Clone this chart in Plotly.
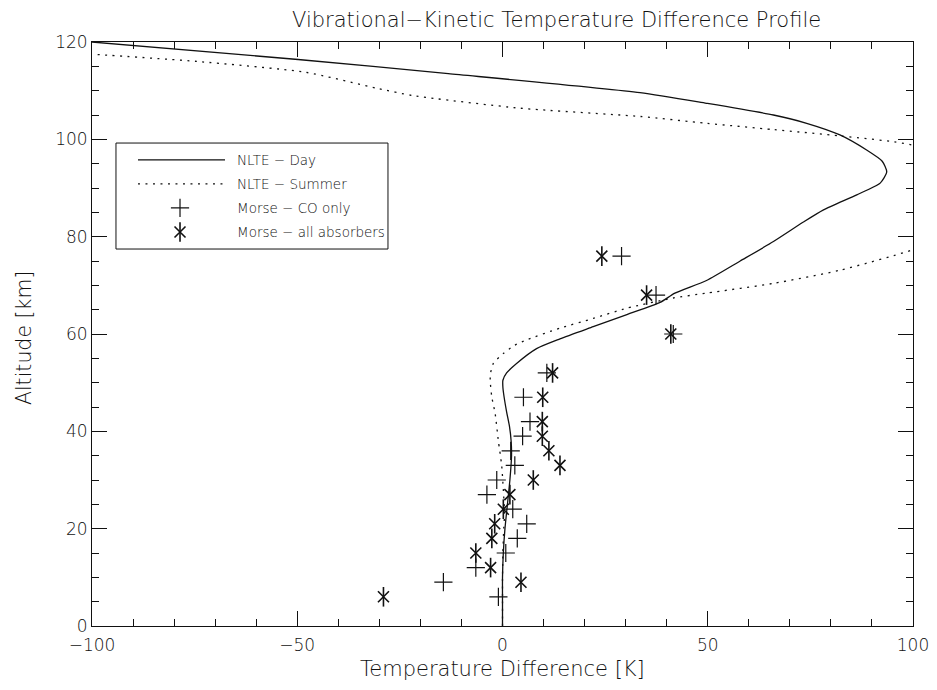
import plotly.graph_objects as go

# ---- data ----
day_alt = [0, 5, 10, 15, 20, 25, 30, 35, 38, 41, 44, 47, 49, 50.5, 52, 54, 57, 59, 61.5, 64,
           66.5, 68.4, 71, 75, 79, 83, 85.5, 88.6, 91, 93.3, 95.5, 97.8, 100.9, 103.3, 105,
           107.4, 109.6, 113.5, 116.4, 120]
day_dt = [0, 0, 0, 0.2, 0.6, 1.2, 1.8, 2.2, 2.1, 1.7, 1.0, 0.4, 0.1, 0.1, 1.0, 3.5, 8.3, 14.0,
          22.1, 30.3, 38.4, 42.0, 49.7, 57.9, 66.0, 73.3, 78.2, 86.3, 92.0, 93.6, 92.5, 88.7,
          82.2, 74.1, 66.0, 49.7, 33.5, -13.2, -49.8, -100]

sum_alt = [0, 5, 10, 15, 20, 23, 28, 33, 38, 43.7, 47, 50.5, 52, 54, 56, 57.7, 58.8, 61.2,
           63.2, 65.3, 67.4, 68.4, 70.4, 73.1, 77.3, 88, 98.8, 100.7, 102, 103.3, 104.7,
           106.4, 109, 110.5, 113.8, 116, 117.5]
sum_dt = [0, 0, 0, 0.1, 0.3, 0.5, 0.2, -0.2, -1.0, -1.8, -2.6, -3.0, -2.9, -2.2, 0.2, 3.0,
          5.9, 14.0, 22.1, 30.3, 41.6, 49.7, 66.0, 82.2, 100, 135, 100, 82.2, 66.0, 49.7,
          33.5, 4.3, -21.9, -30.6, -48.1, -74.3, -100]

co_alt = [76, 68, 60, 52, 47, 42, 39, 36, 33, 30, 27, 24, 21, 18, 15, 12, 9, 6]
co_dt = [29.0, 37.4, 41.6, 10.8, 5.1, 6.7, 4.9, 2.0, 3.0, -1.4, -3.8, 2.5, 5.9, 3.6, 0.8,
         -6.5, -14.4, -1.0]

all_alt = [76, 68, 60, 52, 47, 42, 39, 36, 33, 30, 27, 24, 21, 18, 15, 12, 9, 6]
all_dt = [24.2, 35.1, 41.0, 12.2, 9.8, 9.7, 9.7, 11.3, 14.0, 7.5, 1.8, 0.2, -1.9, -2.6, -6.5,
          -2.9, 4.5, -29.0]

legend_labels = ["NLTE \u2212 Day", "NLTE \u2212 Summer", "Morse \u2212 CO only",
                 "Morse \u2212 all absorbers"]

FONT = "DejaVu Sans"
W = 200
INK = "#111111"
DOT = "2px,5.5px"

fig = go.Figure()
fig.add_trace(go.Scatter(x=day_dt, y=day_alt, mode="lines",
                         line=dict(color=INK, width=1.3, shape="spline", smoothing=0.6),
                         showlegend=False))
fig.add_trace(go.Scatter(x=sum_dt, y=sum_alt, mode="lines",
                         line=dict(color=INK, width=1.3, dash=DOT, shape="spline", smoothing=0.6),
                         showlegend=False))
fig.add_trace(go.Scatter(x=co_dt, y=co_alt, mode="markers",
                         marker=dict(symbol="cross-thin", size=13,
                                     line=dict(color=INK, width=1.2)), showlegend=False))
fig.add_trace(go.Scatter(x=all_dt, y=all_alt, mode="markers",
                         marker=dict(symbol="x-thin", size=11,
                                     line=dict(color=INK, width=1.6)), showlegend=False))
fig.add_trace(go.Scatter(x=all_dt, y=all_alt, mode="markers",
                         marker=dict(symbol="line-ns", size=14,
                                     line=dict(color=INK, width=1.6)), showlegend=False))

# ---- manual IDL-style legend (axis-domain coordinates) ----
box = dict(x0=0.0292, x1=0.3605, y0=0.6455, y1=0.827)
row_y = [0.798, 0.757, 0.7158, 0.6747]
samp_x0, samp_x1, mark_x, text_x = 0.056, 0.162, 0.1072, 0.1736

shapes = [dict(type="rect", xref="x domain", yref="y domain", **box,
               line=dict(color=INK, width=1), fillcolor="white", layer="below")]
shapes.append(dict(type="line", xref="x domain", yref="y domain", x0=samp_x0, x1=samp_x1,
                   y0=row_y[0], y1=row_y[0], line=dict(color=INK, width=1.3)))
shapes.append(dict(type="line", xref="x domain", yref="y domain", x0=samp_x0, x1=samp_x1,
                   y0=row_y[1], y1=row_y[1], line=dict(color=INK, width=1.3, dash=DOT)))

fig.add_trace(go.Scatter(x=[mark_x], y=[row_y[2]], xaxis="x2", yaxis="y2", mode="markers",
                         marker=dict(symbol="cross-thin", size=13,
                                     line=dict(color=INK, width=1.2)), showlegend=False))
fig.add_trace(go.Scatter(x=[mark_x], y=[row_y[3]], xaxis="x2", yaxis="y2", mode="markers",
                         marker=dict(symbol="x-thin", size=11,
                                     line=dict(color=INK, width=1.6)), showlegend=False))
fig.add_trace(go.Scatter(x=[mark_x], y=[row_y[3]], xaxis="x2", yaxis="y2", mode="markers",
                         marker=dict(symbol="line-ns", size=14,
                                     line=dict(color=INK, width=1.6)), showlegend=False))

annotations = []
for lbl, yy in zip(legend_labels, row_y):
    annotations.append(dict(text=lbl, xref="x domain", yref="y domain", x=text_x, y=yy,
                            xanchor="left", yanchor="middle", showarrow=False,
                            font=dict(family=FONT, size=13.5, color=INK, weight=W)))
# axis titles
annotations.append(dict(text="Temperature Difference [K]", xref="paper", yref="paper",
                        x=0.5, y=-0.0736, xanchor="center", yanchor="middle", showarrow=False,
                        font=dict(family=FONT, size=21, color=INK, weight=W)))
annotations.append(dict(text="Altitude [km]", xref="paper", yref="paper", textangle=-90,
                        x=-0.0828, y=0.493, xanchor="center", yanchor="middle", showarrow=False,
                        font=dict(family=FONT, size=20.5, color=INK, weight=W)))
# title
annotations.append(dict(text="Vibrational\u2212Kinetic Temperature Difference Profile",
                        xref="paper", yref="paper", x=0.566, y=1.0377,
                        xanchor="center", yanchor="middle", showarrow=False,
                        font=dict(family=FONT, size=21, color=INK, weight=W)))

axis_common = dict(showline=True, linecolor=INK, linewidth=1, mirror="allticks",
                   ticks="inside", ticklen=15, tickwidth=1, tickcolor=INK,
                   showgrid=False, zeroline=False, automargin=False,
                   tickfont=dict(family=FONT, size=17, color=INK, weight=W))

fig.update_layout(
    width=937, height=690,
    margin=dict(l=92, r=24, t=42, b=64, autoexpand=False),
    paper_bgcolor="white", plot_bgcolor="white",
    xaxis=dict(range=[-100, 100], dtick=50, tick0=0, ticklabelstandoff=4,
               minor=dict(dtick=10, ticklen=7, ticks="inside", tickcolor=INK),
               **axis_common),
    yaxis=dict(range=[0, 120], dtick=20, tick0=0,
               minor=dict(dtick=5, ticklen=7, ticks="inside", tickcolor=INK),
               **axis_common),
    xaxis2=dict(range=[0, 1], overlaying="x", visible=False),
    yaxis2=dict(range=[0, 1], overlaying="y", visible=False),
    shapes=shapes, annotations=annotations,
)

fig.write_html("out.html")
